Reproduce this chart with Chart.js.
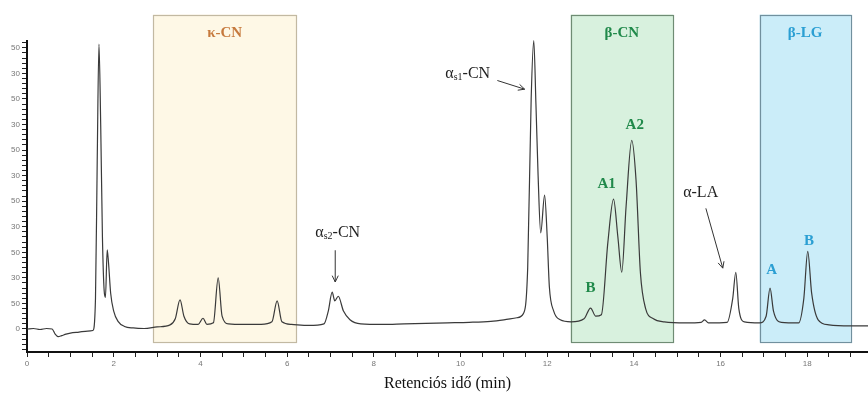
<!DOCTYPE html>
<html>
<head>
<meta charset="utf-8">
<script src="https://cdn.jsdelivr.net/npm/chart.js@4/dist/chart.umd.min.js"></script>
<style>
  body { margin: 0; background: #fff; }
  #wrap { width: 868px; height: 393px; position: relative; }
</style>
</head>
<body>
<div id="wrap"><canvas id="c"></canvas></div>
<script>
// retention time (min) and detector signal
const timeMin = [
  0.00, 0.15, 0.30, 0.45, 0.58, 0.65, 0.72, 0.80, 0.90, 1.00, 1.20, 1.40, 1.52,
  1.58, 1.62, 1.66, 1.70, 1.74, 1.78, 1.81, 1.85, 1.88, 1.93, 2.00, 2.10, 2.25,
  2.45, 2.70, 3.00, 3.30, 3.42, 3.53, 3.62, 3.75, 3.95, 4.06, 4.15, 4.30, 4.41,
  4.50, 4.65, 5.00, 5.40, 5.65, 5.77, 5.88, 6.10, 6.50, 6.85, 6.95, 7.04, 7.10,
  7.18, 7.30, 7.45, 7.70, 8.20, 8.70, 9.20, 9.70, 10.20, 10.70, 11.00, 11.30,
  11.45, 11.55, 11.63, 11.69, 11.74, 11.79, 11.85, 11.94, 12.00, 12.05, 12.15,
  12.30, 12.55, 12.85, 13.00, 13.12, 13.25, 13.40, 13.53, 13.63, 13.72, 13.82,
  13.95, 14.05, 14.15, 14.27, 14.45, 14.70, 15.20, 15.55, 15.63, 15.72, 16.15,
  16.28, 16.35, 16.42, 16.55, 16.90, 17.05, 17.14, 17.22, 17.40, 17.80, 17.92,
  18.01, 18.10, 18.25, 18.50, 19.00, 19.40
];
const signal = [
  0, 1, -1, 1, 0, -10, -15, -13, -10, -8, -6, -4, -3,
  60, 330, 557, 400, 180, 75, 62, 155, 130, 70, 35, 15, 5,
  2, 1, 4, 8, 20, 57, 25, 10, 9, 21, 9, 12, 100,
  25, 10, 9, 9, 14, 55, 14, 9, 7, 10, 35, 72, 55,
  64, 35, 18, 10, 9, 10, 11, 12, 13, 15, 18, 22,
  30, 120, 450, 564, 440, 300, 188, 262, 180, 82, 35,
  18, 14, 20, 41, 25, 28, 170, 254, 180, 111, 240,
  369, 290, 110, 40, 20, 14, 12, 13, 18, 12, 13,
  60, 111, 40, 14, 12, 25, 80, 35, 13, 12, 60,
  152, 70, 18, 8, 6, 6
];

const yTickValues = [0, 50, 100, 150, 200, 250, 300, 350, 400, 450, 500, 550];
const yTickLabels = ['0', '50', '30', '50', '30', '50', '30', '50', '30', '50', '30', '50'];
const xTickValues = [0, 2, 4, 6, 8, 10, 12, 14, 16, 18];
const xTickLabels = ['0', '2', '4', '6', '8', '10', '12', '14', '16', '18'];

const boxNames = ['κ-CN', 'β-CN', 'β-LG'];
const boxFrom = [2.91, 12.54, 16.9];
const boxTo = [6.21, 14.9, 19.0];

// styling of the shaded regions
const boxStyle = [
  { fill: '#fef8e6', stroke: '#c2b9a2', text: '#c67a3e' },
  { fill: '#d8f1de', stroke: '#6f8c74', text: '#20894a' },
  { fill: '#cbedf9', stroke: '#71909e', text: '#2b9fd3' }
];
const green = '#20894a', blue = '#2b9fd3';

// peak labels (x in min, y in signal units)
const peakLabels = [
  { t: 'B', x: 13.0, y: 80, c: green },
  { t: 'A1', x: 13.37, y: 283, c: green },
  { t: 'A2', x: 14.02, y: 398, c: green },
  { t: 'A', x: 17.18, y: 115, c: blue },
  { t: 'B', x: 18.04, y: 172, c: blue }
];
const arrows = [
  { x1: 7.11, y1: 154, x2: 7.11, y2: 92 },
  { x1: 10.85, y1: 486, x2: 11.48, y2: 469 },
  { x1: 15.66, y1: 236, x2: 16.05, y2: 119 }
];

const serif = '"Liberation Serif", "Times New Roman", serif';

function rich(ctx, parts, x, y) {
  let cx = x;
  parts.forEach(p => {
    ctx.font = p.sub ? '10px ' + serif : '16px ' + serif;
    ctx.fillText(p.t, cx, p.sub ? y + 4 : y);
    cx += ctx.measureText(p.t).width;
  });
}

function arrow(ctx, x1, y1, x2, y2) {
  const a = Math.atan2(y2 - y1, x2 - x1);
  ctx.beginPath();
  ctx.moveTo(x1, y1);
  ctx.lineTo(x2, y2);
  ctx.moveTo(x2 - 7 * Math.cos(a - 0.45), y2 - 7 * Math.sin(a - 0.45));
  ctx.lineTo(x2, y2);
  ctx.lineTo(x2 - 7 * Math.cos(a + 0.45), y2 - 7 * Math.sin(a + 0.45));
  ctx.stroke();
}

const decor = {
  id: 'decor',
  beforeDatasetsDraw(chart) {
    const { ctx, scales: { x, y } } = chart;
    ctx.save();
    const top = y.getPixelForValue(615), bottom = y.getPixelForValue(-25);
    boxNames.forEach((name, i) => {
      const l = x.getPixelForValue(boxFrom[i]), r = x.getPixelForValue(boxTo[i]);
      ctx.fillStyle = boxStyle[i].fill;
      ctx.fillRect(l, top, r - l, bottom - top);
      ctx.strokeStyle = boxStyle[i].stroke;
      ctx.lineWidth = 1.2;
      ctx.strokeRect(Math.round(l) + 0.5, Math.round(top) + 0.5, Math.round(r - l), Math.round(bottom - top));
      ctx.fillStyle = boxStyle[i].text;
      ctx.font = 'bold 15px ' + serif;
      ctx.textAlign = 'center';
      ctx.textBaseline = 'middle';
      ctx.fillText(name, (l + r) / 2, y.getPixelForValue(578));
    });
    // y axis line
    ctx.strokeStyle = '#111';
    ctx.lineWidth = 2;
    ctx.beginPath();
    ctx.moveTo(chart.chartArea.left, y.getPixelForValue(565));
    ctx.lineTo(chart.chartArea.left, chart.chartArea.bottom);
    ctx.stroke();
    ctx.restore();
  },
  afterDatasetsDraw(chart) {
    const { ctx, scales: { x, y } } = chart;
    ctx.save();
    ctx.textBaseline = 'middle';
    ctx.textAlign = 'center';
    ctx.font = 'bold 15px ' + serif;
    peakLabels.forEach(p => {
      ctx.fillStyle = p.c;
      ctx.fillText(p.t, x.getPixelForValue(p.x), y.getPixelForValue(p.y));
    });
    ctx.fillStyle = '#222';
    ctx.textAlign = 'left';
    rich(ctx, [{ t: 'α' }, { t: 's2', sub: true }, { t: '-CN' }], x.getPixelForValue(6.65), y.getPixelForValue(188));
    rich(ctx, [{ t: 'α' }, { t: 's1', sub: true }, { t: '-CN' }], x.getPixelForValue(9.65), y.getPixelForValue(500));
    ctx.textAlign = 'center';
    ctx.font = '16px ' + serif;
    ctx.fillText('α-LA', x.getPixelForValue(15.54), y.getPixelForValue(266));
    ctx.strokeStyle = '#333';
    ctx.lineWidth = 1;
    arrows.forEach(a => arrow(ctx, x.getPixelForValue(a.x1), y.getPixelForValue(a.y1), x.getPixelForValue(a.x2), y.getPixelForValue(a.y2)));
    ctx.restore();
  }
};

new Chart(document.getElementById('c'), {
  type: 'line',
  data: {
    datasets: [{
      data: timeMin.map((t, i) => ({ x: t, y: signal[i] })),
      borderColor: '#3a3a3a',
      borderWidth: 1.2,
      pointRadius: 0,
      cubicInterpolationMode: 'monotone',
      fill: false
    }]
  },
  options: {
    responsive: true,
    maintainAspectRatio: false,
    animation: false,
    layout: { padding: { top: 12, left: 0, right: 0, bottom: 0 } },
    plugins: { legend: { display: false }, tooltip: { enabled: false } },
    scales: {
      x: {
        type: 'linear',
        min: 0,
        max: 19.4,
        afterBuildTicks: s => {
          s.ticks = [];
          for (let v = 0; v <= 19; v += 0.5) s.ticks.push({ value: v });
        },
        ticks: {
          autoSkip: false,
          maxRotation: 0,
          font: { size: 8 },
          color: '#777',
          padding: 2,
          callback: v => {
            const i = xTickValues.indexOf(v);
            return i >= 0 ? xTickLabels[i] : '';
          }
        },
        grid: { drawOnChartArea: false, tickLength: 5, color: '#222' },
        border: { color: '#111', width: 2 },
        title: {
          display: true,
          text: 'Retenciós idő (min)',
          font: { family: serif, size: 16 },
          color: '#111',
          padding: { top: 0, bottom: 0 }
        },
        afterFit: s => { s.height = 41; }
      },
      y: {
        min: -45,
        max: 620,
        afterBuildTicks: s => {
          s.ticks = [];
          for (let v = -40; v <= 560; v += 10) s.ticks.push({ value: v });
        },
        ticks: {
          autoSkip: false,
          font: { size: 8 },
          color: '#777',
          padding: 2,
          callback: v => {
            const i = yTickValues.indexOf(v);
            return i >= 0 ? yTickLabels[i] : '';
          }
        },
        grid: { drawOnChartArea: false, tickLength: 5, color: '#222' },
        border: { display: false },
        afterFit: s => { s.width = 27; }
      }
    }
  },
  plugins: [decor]
});
</script>
</body>
</html>
